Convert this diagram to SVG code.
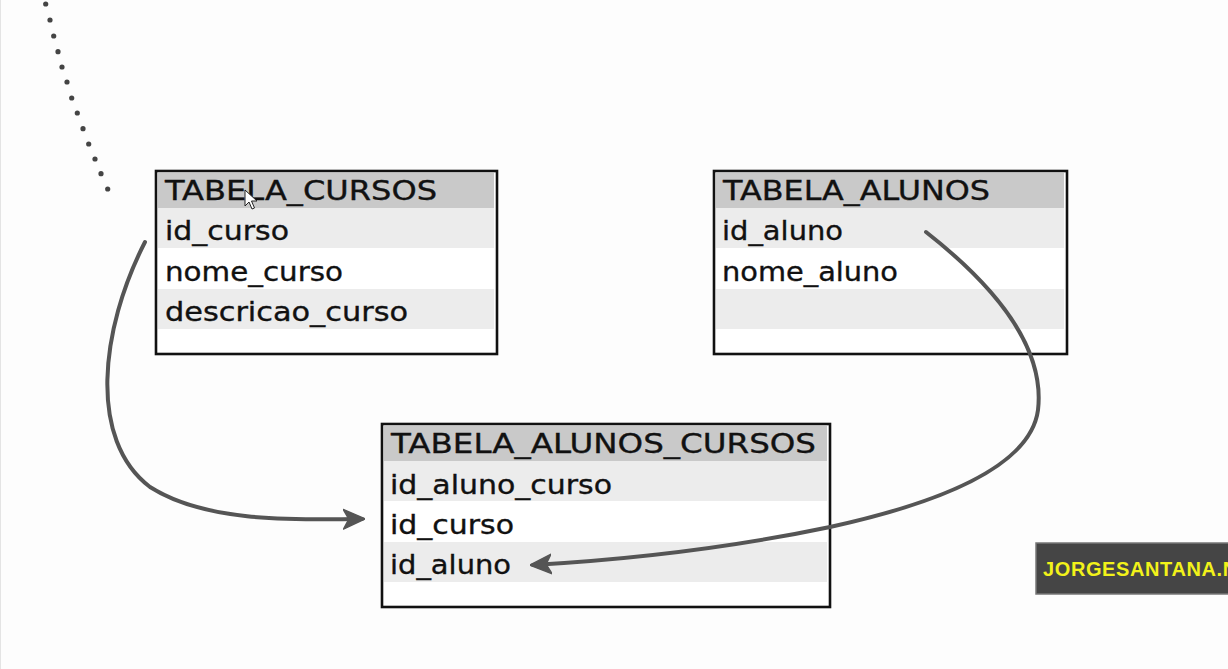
<svg xmlns="http://www.w3.org/2000/svg" width="1228" height="669" viewBox="0 0 1228 669">
<defs>
<style>
.bg{fill:#fdfdfd}
.frame{fill:#ffffff;stroke:#111;stroke-width:2.6}
.hdr{fill:#c9c9c9}
.alt{fill:#ececec}
.t{font-family:"DejaVu Sans","Liberation Sans",sans-serif;font-size:26px;fill:#111;stroke:#111;stroke-width:0.35}
.conn{fill:none;stroke:#555;stroke-width:4;stroke-linecap:round}
.dot{fill:#444}
.wm{font-family:"Liberation Sans",Arial,sans-serif;font-weight:bold;font-size:20px;letter-spacing:0.6px;fill:#f2f21a}
</style>
<marker id="ah" viewBox="0 0 10 10" refX="8.5" refY="5" markerWidth="22" markerHeight="22" orient="auto" markerUnits="userSpaceOnUse">
<path d="M0,0.5 L10,5 L0,9.5 L2.5,5 Z" fill="#555" stroke="#555" stroke-width="0.6" stroke-linejoin="round"/>
</marker>
</defs>
<rect class="bg" x="0" y="0" width="1228" height="669"/>
<line x1="0.5" y1="0" x2="0.5" y2="669" stroke="#e4e4e4" stroke-width="1"/>

<g id="dotted-line">
<circle class="dot" cx="45.7" cy="4" r="2.6"/>
<circle class="dot" cx="50" cy="20" r="2.6"/>
<circle class="dot" cx="53.7" cy="36" r="2.6"/>
<circle class="dot" cx="58" cy="51.7" r="2.6"/>
<circle class="dot" cx="62" cy="67" r="2.6"/>
<circle class="dot" cx="67" cy="82" r="2.6"/>
<circle class="dot" cx="71.7" cy="98" r="2.6"/>
<circle class="dot" cx="77.3" cy="113" r="2.6"/>
<circle class="dot" cx="83" cy="128.7" r="2.6"/>
<circle class="dot" cx="88.7" cy="144" r="2.6"/>
<circle class="dot" cx="95" cy="159" r="2.6"/>
<circle class="dot" cx="101" cy="173.7" r="2.6"/>
<circle class="dot" cx="107.7" cy="189" r="2.6"/>
</g>

<g id="tabela_cursos">
<rect class="frame" x="156" y="171" width="341" height="183"/>
<rect class="hdr" x="158" y="173" width="336" height="35"/>
<rect class="alt" x="158" y="208" width="336" height="40"/>
<rect class="alt" x="158" y="289" width="336" height="40"/>
<text class="t" x="165" y="200" textLength="272" lengthAdjust="spacingAndGlyphs">TABELA_CURSOS</text>
<text class="t" x="165" y="240" textLength="124" lengthAdjust="spacingAndGlyphs">id_curso</text>
<text class="t" x="165" y="281" textLength="178" lengthAdjust="spacingAndGlyphs">nome_curso</text>
<text class="t" x="165" y="321" textLength="243" lengthAdjust="spacingAndGlyphs">descricao_curso</text>
</g>

<g id="tabela_alunos">
<rect class="frame" x="714" y="171" width="353" height="183"/>
<rect class="hdr" x="716" y="173" width="348" height="35"/>
<rect class="alt" x="716" y="208" width="348" height="40"/>
<rect class="alt" x="716" y="289" width="348" height="40"/>
<text class="t" x="723" y="200" textLength="267" lengthAdjust="spacingAndGlyphs">TABELA_ALUNOS</text>
<text class="t" x="722" y="240" textLength="121" lengthAdjust="spacingAndGlyphs">id_aluno</text>
<text class="t" x="722" y="281" textLength="176" lengthAdjust="spacingAndGlyphs">nome_aluno</text>
</g>

<g id="tabela_alunos_cursos">
<rect class="frame" x="382" y="424" width="448" height="183"/>
<rect class="hdr" x="384" y="426" width="443" height="35"/>
<rect class="alt" x="384" y="461" width="443" height="40"/>
<rect class="alt" x="384" y="542" width="443" height="40"/>
<text class="t" x="391" y="453" textLength="425" lengthAdjust="spacingAndGlyphs">TABELA_ALUNOS_CURSOS</text>
<text class="t" x="390" y="494" textLength="222" lengthAdjust="spacingAndGlyphs">id_aluno_curso</text>
<text class="t" x="390" y="534" textLength="124" lengthAdjust="spacingAndGlyphs">id_curso</text>
<text class="t" x="390" y="574" textLength="121" lengthAdjust="spacingAndGlyphs">id_aluno</text>
</g>

<g id="connectors">
<path class="conn" d="M145,242 C100,330 88,440 150,487 C205,522 290,520 362,519" marker-end="url(#ah)"/>
<path class="conn" d="M926,232 C1000,290 1045,350 1038,410 C1030,470 930,505 830,527 C730,548 620,560 533,565" marker-end="url(#ah)"/>
</g>

<g id="cursor">
<path d="M245,190 L245,206 L249,202 L252,209 L254.5,208 L251.5,201 L257,201 Z" fill="#fff" stroke="#222" stroke-width="1"/>
</g>

<g id="watermark">
<rect x="1036" y="543" width="196" height="51" fill="#454545" stroke="#777" stroke-width="1.5"/>
<text class="wm" x="1043" y="576">JORGESANTANA.N</text>
</g>
</svg>
